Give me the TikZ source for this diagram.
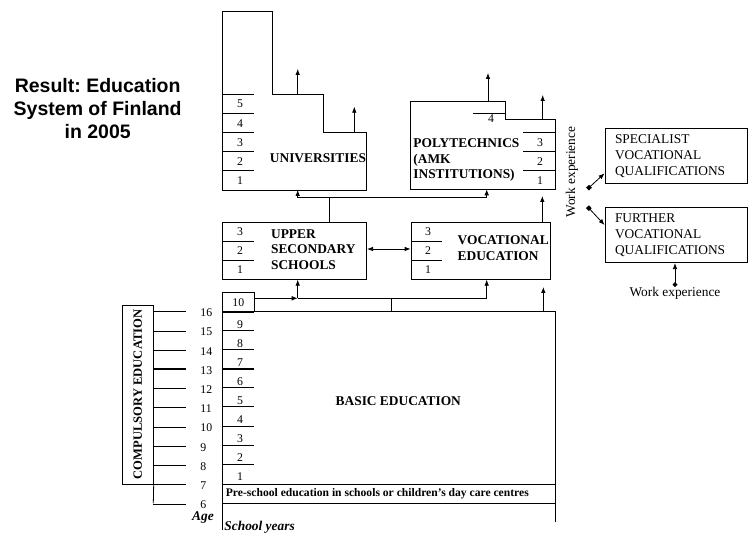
\documentclass[tikz,border=0pt]{standalone}
\usepackage{fontspec}
\setmainfont{Liberation Serif}
\newfontfamily\headfont{Liberation Sans}
\usetikzlibrary{arrows.meta}
\frenchspacing

\begin{document}
\begin{tikzpicture}[x=1pt, y=-1pt, line width=0.8pt,
        >={Latex[length=6pt,width=4.6pt]},
        num/.style={font=\fontsize{11.8}{12}\selectfont, inner sep=0pt},
        heading/.style={font=\fontsize{13.4}{15.8}\selectfont\bfseries, align=left, inner sep=0pt, anchor=west},
        plain/.style={font=\fontsize{13.4}{15.6}\selectfont, inner sep=0pt},
        panel/.style={draw, inner sep=0pt, minimum height=57pt},
        qualbox/.style={draw, plain, text width=122pt, inner xsep=10pt, align=left, minimum height=55pt},
        thickline/.style={line width=1.8pt}]
    \useasboundingbox (0,0) rectangle (748,534);

    % title
    \node[font=\fontsize{19.5}{23}\selectfont\headfont\bfseries, align=center] (title) at (97.7,108.5)
        {Result: Education\\System of Finland\\in 2005};

    % universities
    \draw (222.7,190) -- (222.7,11) -- (272.7,11) -- (272.7,94.3) -- (323.3,94.3)
        -- (323.3,132.7) -- (366.7,132.7) -- (366.7,190) -- cycle;
    \foreach \n [count=\i] in {5,4,3,2,1} {
        \draw (222.7,{94.3+(\i-1)*19.15}) -- (254,{94.3+(\i-1)*19.15});
        \node[num] (uniyr\n) at (240,{104+(\i-1)*19.15}) {\n};
    }
    \node[heading] (unitxt) at (269.5,158) {UNIVERSITIES};
    \coordinate (unistep1) at (297.7,94.3);
    \coordinate (unistep2) at (354.3,132.7);
    \coordinate (uniout1) at (297.7,69);
    \coordinate (uniout2) at (354.3,106.7);
    \draw[->] (unistep1) -- (uniout1);
    \draw[->] (unistep2) -- (uniout2);

    % polytechnics
    \draw (410.7,101) -- (505,101) -- (505,119.3) -- (555,119.3) -- (555,189.3)
        -- (410.7,189.3) -- cycle;
    \draw (473.3,113.3) -- (505,113.3);
    \node[num] (polyyr4) at (491,118.5) {4};
    \foreach \n [count=\i] in {3,2,1} {
        \draw (523.3,{132.7+(\i-1)*19}) -- (555,{132.7+(\i-1)*19});
        \node[num] (polyyr\n) at (540,{142.5+(\i-1)*19}) {\n};
    }
    \node[heading] (polytxt) at (413,160) {POLYTECHNICS\\(AMK\\INSTITUTIONS)};
    \coordinate (polystep1) at (488,101);
    \coordinate (polystep2) at (542.7,119.3);
    \coordinate (polyout1) at (488,73);
    \coordinate (polyout2) at (542.7,95);
    \draw[->] (polystep1) -- (polyout1);
    \draw[->] (polystep2) -- (polyout2);

    % upper secondary and vocational
    \node[panel, minimum width=144pt] (upper) at (294.7,250.8) {};
    \node[panel, minimum width=139pt] (voc) at (480.5,250.8) {};
    \foreach \n [count=\i] in {3,2,1} {
        \ifnum\i>1
            \draw (222.7,{222.3+(\i-1)*19}) -- (254,{222.3+(\i-1)*19});
            \draw (411,{222.3+(\i-1)*19}) -- (442.3,{222.3+(\i-1)*19});
        \fi
        \node[num] (upperyr\n) at (240,{232+(\i-1)*19}) {\n};
        \node[num] (vocyr\n) at (428,{232+(\i-1)*19}) {\n};
    }
    \node[heading] (uppertxt) at (270.7,249.5) {UPPER\\SECONDARY\\SCHOOLS};
    \node[heading] (voctxt) at (457.3,248) {VOCATIONAL\\EDUCATION};
    \draw[<->] (upper.east |- 0,249) -- (voc.west |- 0,249);

    \coordinate (uniin) at (297.7,190);
    \coordinate (polyin) at (486.7,189.3);
    \coordinate (jup) at (329.3,197.7);
    \draw (upper.north -| jup) -- (jup);
    \draw[->] (jup) -| (uniin);
    \draw[->] (jup) -| (polyin);
    \coordinate (vocout) at (542.3,196);
    \draw[->] (voc.north -| vocout) -- (vocout);

    % further qualifications
    \node[qualbox] (spec) at (676,156.2) {SPECIALIST\\VOCATIONAL\\QUALIFICATIONS};
    \node[qualbox] (further) at (676,235.2) {FURTHER\\VOCATIONAL\\QUALIFICATIONS};
    \node[plain, rotate=90] (wexp) at (572,172) {Work experience};
    \coordinate (sq1) at (587.5,189);
    \coordinate (sq2) at (587.5,206.7);
    \draw[{Square[length=4pt,width=4pt]}->] (sq1) -- (spec.west |- 0,173.3);
    \draw[{Square[length=4pt,width=4pt]}->] (sq2) -- (further.west |- 0,225);
    \node[plain] (wexp2) at (675,293.5) {Work experience};
    \draw[{Diamond[length=5pt,width=5pt]}->] (wexp2.north) -- (further.south -| wexp2);

    % basic education
    \node[draw, num, minimum width=31.3pt, minimum height=19pt] (ten) at (238.35,302.2) {10};
    \draw (222.7,311.7) -- (555,311.7) -- (555,521.7);
    \draw (222.7,311.7) -- (222.7,530);
    \draw[thickline] (222.7,311.7) -- (254,311.7);
    \foreach \n [count=\i] in {9,...,1} {
        \ifnum\i=3 \def\lw{1.8pt}\else \def\lw{0.8pt}\fi
        \ifnum\i<9
            \draw[line width=\lw] (222.7,{311.7+\i*19.04}) -- (254,{311.7+\i*19.04});
        \fi
        \node[num] (basicyr\n) at (240,{324.5+(\i-1)*19.04}) {\n};
    }
    \node[font=\fontsize{13.4}{15}\selectfont\bfseries] (basictxt) at (398.3,400.7) {BASIC EDUCATION};
    \draw (222.7,484) -- (555,484);
    \draw (222.7,503.3) -- (555,503.3);
    \node[font=\fontsize{11.6}{13}\selectfont\bfseries, anchor=west, inner sep=0pt] (pretxt) at (225.5,494)
        {Pre-school education in schools or children’s day care centres};

    \coordinate (tenout) at (254,298.3);
    \coordinate (jlow) at (297.7,298.3);
    \coordinate (basictop) at (391.7,311.7);
    \draw[->] (tenout) -- (jlow);
    \draw[->] (jlow) -- (upper.south -| jlow);
    \draw (basictop) -- (basictop |- jlow);
    \draw[->] (jlow) -| (voc.south -| polyin);
    \coordinate (basicright) at (543.3,311.7);
    \coordinate (basicout) at (543.3,287);
    \draw[->] (basicright) -- (basicout);

    % ages
    \node[draw, minimum width=31pt, minimum height=179pt, inner sep=0pt] (compul) at (137.8,394.5) {};
    \node[font=\fontsize{12.6}{14}\selectfont\bfseries, rotate=90] (compultxt) at (compul) {COMPULSORY EDUCATION};
    \draw (compul.south east) -- (153.3,503.3);
    \foreach \a in {16,...,6} {
        \ifnum\a=13 \def\lw{1.8pt}\else \def\lw{0.8pt}\fi
        \draw[line width=\lw] (153.3,{311.7+(16-\a)*19.23}) -- (186,{311.7+(16-\a)*19.23});
        \node[num, anchor=west] (age\a) at (200,{312.7+(16-\a)*19.23}) {\a};
    }
    \node[font=\fontsize{13.4}{15}\selectfont\bfseries\itshape] (agetxt) at (203,517.7) {Age};
    \node[font=\fontsize{13.4}{15}\selectfont\bfseries\itshape, anchor=west, inner sep=0pt] (yearstxt) at (224,527) {School years};
\end{tikzpicture}
\end{document}
